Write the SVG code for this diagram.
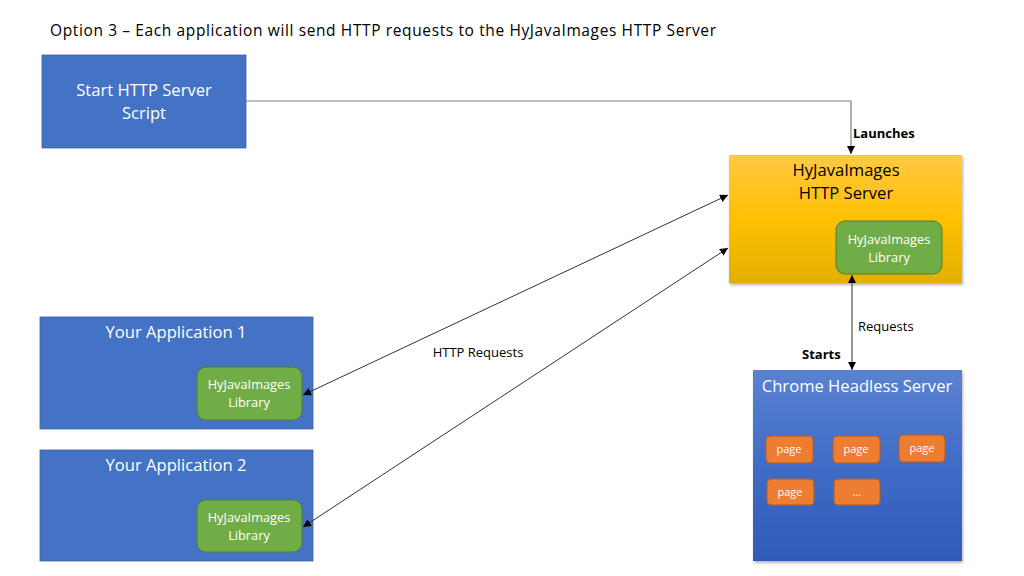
<svg xmlns="http://www.w3.org/2000/svg" width="1024" height="576" viewBox="0 0 1024 576">
<defs>
<linearGradient id="gy" x1="0" y1="0" x2="0" y2="1"><stop offset="0" stop-color="#FFC944"/><stop offset="0.5" stop-color="#FFC000"/><stop offset="1" stop-color="#E2B000"/></linearGradient>
<linearGradient id="gb" x1="0" y1="0" x2="0" y2="1"><stop offset="0" stop-color="#5A82D2"/><stop offset="0.5" stop-color="#3F6CC6"/><stop offset="1" stop-color="#2F5BB8"/></linearGradient>
<filter id="sh" x="-5%" y="-5%" width="110%" height="115%"><feDropShadow dx="1" dy="2" stdDeviation="1.5" flood-color="#000" flood-opacity="0.3"/></filter>
<marker id="ah" viewBox="0 0 10 10" refX="10" refY="5" markerWidth="8" markerHeight="8" markerUnits="userSpaceOnUse" orient="auto-start-reverse"><path d="M0,0 L10,5 L0,10 z" fill="#000"/></marker>
<style>
text{font-family:"Open Sans","Liberation Sans",sans-serif}
.box{fill:#4472C4;stroke:#3A62AA;stroke-width:0.8}
.lib{fill:#70AD47;stroke:#507E32;stroke-width:1}
.pg{fill:#ED7D31;stroke:#B65C22;stroke-width:1}
.wt{fill:#fff;text-anchor:middle}
.big{font-size:16.6px}
.sm{font-size:12.8px}
.xs{font-size:11px}
.con{fill:none;stroke:#333;stroke-width:1}
.lbl{font-size:13px;fill:#000}
.b{font-weight:bold}
</style>
</defs>
<text x="50" y="36" font-size="15.5" fill="#000" textLength="666">Option 3 – Each application will send HTTP requests to the HyJavaImages HTTP Server</text>

<g id="start">
<rect class="box" x="42" y="55" width="204" height="93"/>
<text class="wt big" x="144" y="96">Start HTTP Server</text>
<text class="wt big" x="144" y="119">Script</text>
</g>

<g id="server">
<rect x="729" y="155" width="233" height="128" fill="url(#gy)" filter="url(#sh)"/>
<text class="big" x="846" y="176" text-anchor="middle" fill="#000">HyJavaImages</text>
<text class="big" x="846" y="199" text-anchor="middle" fill="#000">HTTP Server</text>
<g id="server-lib">
<rect class="lib" x="836" y="221" width="106" height="53" rx="9"/>
<text class="wt sm" x="889" y="244">HyJavaImages</text>
<text class="wt sm" x="889" y="262">Library</text>
</g>
</g>

<g id="chrome">
<rect x="753" y="370" width="209" height="191" fill="url(#gb)" filter="url(#sh)"/>
<text class="wt big" x="857" y="392">Chrome Headless Server</text>
<g id="page1"><rect class="pg" x="766" y="436" width="47" height="27" rx="4"/><text class="wt xs" x="789" y="453">page</text></g>
<g id="page2"><rect class="pg" x="833" y="436" width="47" height="27" rx="4"/><text class="wt xs" x="856" y="453">page</text></g>
<g id="page3"><rect class="pg" x="899" y="435" width="46" height="27" rx="4"/><text class="wt xs" x="922" y="452">page</text></g>
<g id="page4"><rect class="pg" x="767" y="479" width="47" height="26" rx="4"/><text class="wt xs" x="790" y="496">page</text></g>
<g id="page5"><rect class="pg" x="834" y="479" width="46" height="26" rx="4"/><text class="wt xs" x="857" y="496">...</text></g>
</g>

<g id="app1">
<rect class="box" x="40" y="317" width="273" height="112"/>
<text class="wt big" x="176" y="338">Your Application 1</text>
<g id="app1-lib">
<rect class="lib" x="197" y="367" width="105" height="53" rx="9"/>
<text class="wt sm" x="249" y="389">HyJavaImages</text>
<text class="wt sm" x="249" y="407">Library</text>
</g>
</g>

<g id="app2">
<rect class="box" x="40" y="450" width="273" height="111"/>
<text class="wt big" x="176" y="471">Your Application 2</text>
<g id="app2-lib">
<rect class="lib" x="197" y="500" width="105" height="52" rx="9"/>
<text class="wt sm" x="249" y="522">HyJavaImages</text>
<text class="wt sm" x="249" y="540">Library</text>
</g>
</g>

<g id="connectors">
<path d="M246,101 H851 V154" fill="none" stroke="#808080" stroke-width="1.2" marker-end="url(#ah)"/>
<text class="lbl b" x="853" y="138">Launches</text>
<line class="con" x1="852" y1="275" x2="852" y2="370" marker-start="url(#ah)" marker-end="url(#ah)"/>
<text class="lbl" x="858" y="331">Requests</text>
<text class="lbl b" x="802" y="359">Starts</text>
<line class="con" x1="303" y1="395" x2="728" y2="195" marker-start="url(#ah)" marker-end="url(#ah)"/>
<line class="con" x1="303" y1="527" x2="728" y2="248" marker-start="url(#ah)" marker-end="url(#ah)"/>
<text class="lbl" x="478" y="357" text-anchor="middle">HTTP Requests</text>
</g>
</svg>
